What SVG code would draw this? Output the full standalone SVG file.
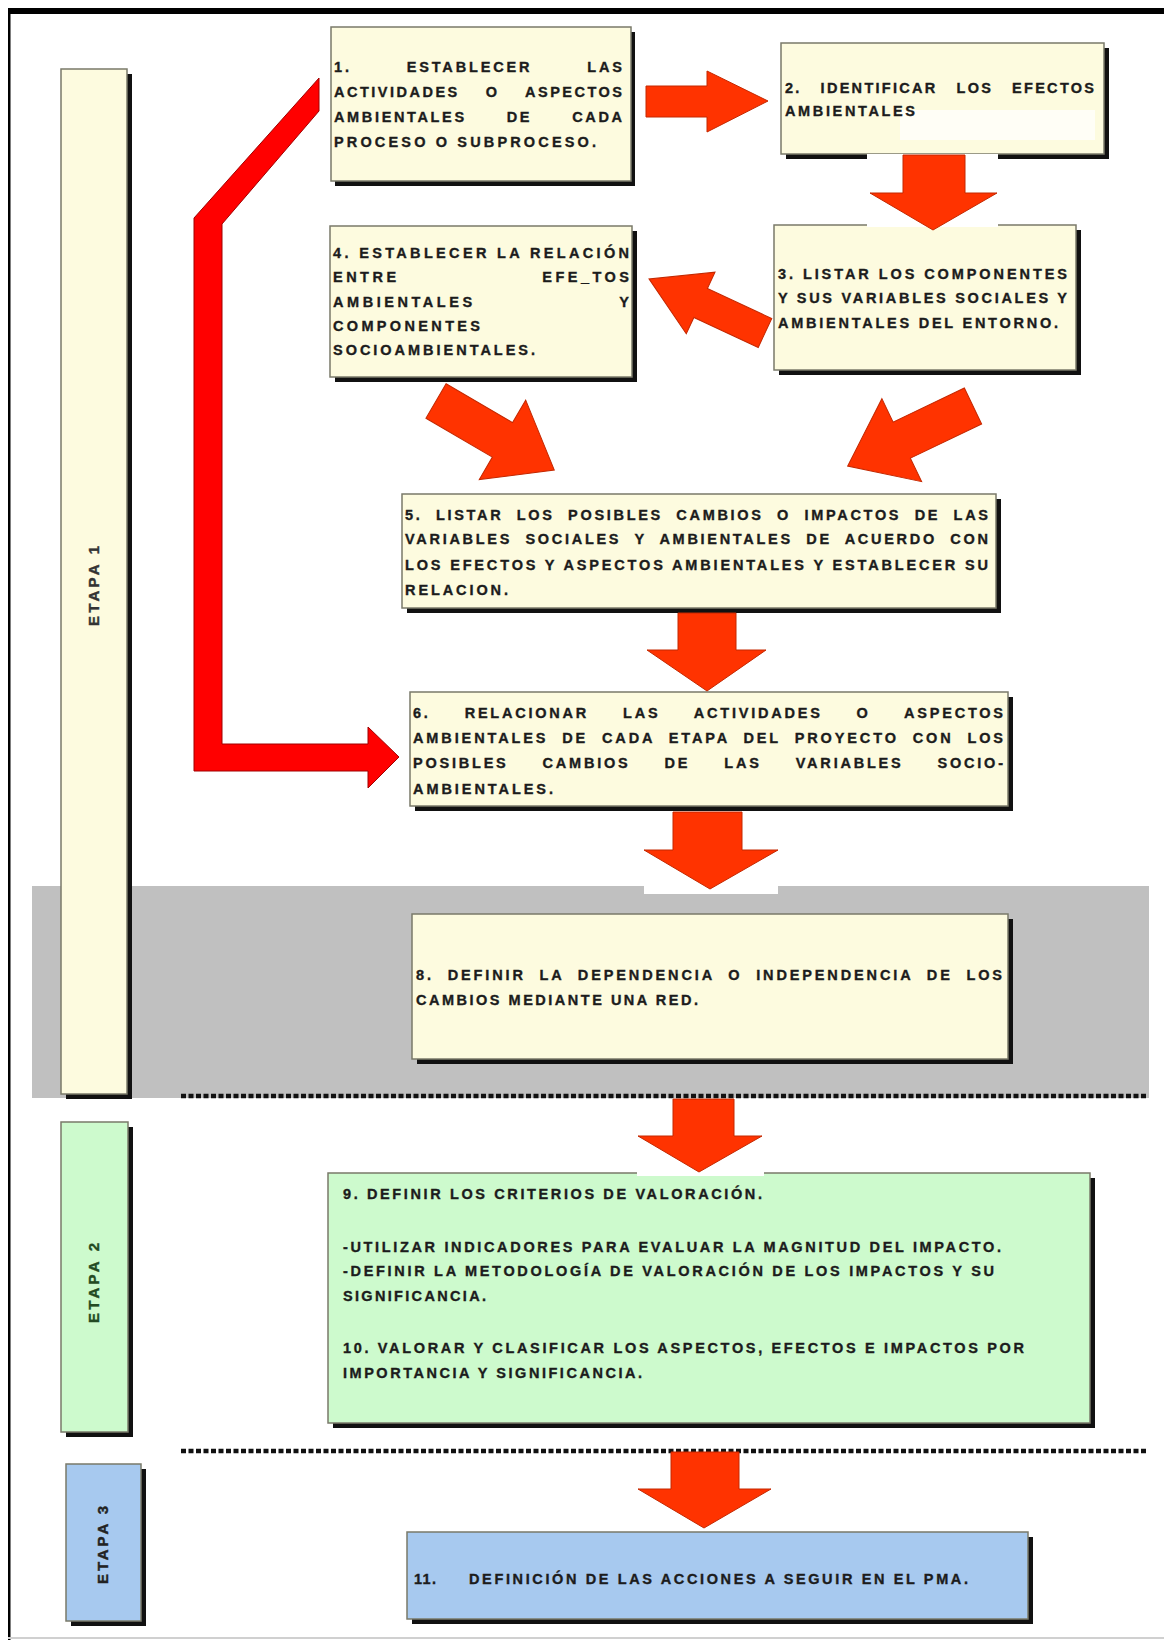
<svg xmlns="http://www.w3.org/2000/svg" width="1164" height="1648" viewBox="0 0 1164 1648">
<style>
.sh{fill:#111}
.bx{stroke:#7a7a6a;stroke-width:1.5}
.cream{fill:#fdfbdf}
.green{fill:#cdfacd}
.blue{fill:#a7c9ef}
.t{font-family:"Liberation Sans",Arial,sans-serif;font-weight:bold;font-size:14.5px;fill:#1c1c1c;stroke:#1c1c1c;stroke-width:0.35}
.et{font-family:"Liberation Sans",Arial,sans-serif;font-weight:bold;font-size:15px;stroke-width:0.4}
.arr{fill:#ff3300;stroke:#c42800;stroke-width:1}
.red{fill:#ff0000;stroke:#a00000;stroke-width:1}
.dot{stroke:#111;stroke-width:4.5;stroke-dasharray:5 2.5;fill:none}
</style>
<rect width="1164" height="1648" fill="#ffffff"/>
<g id="frame">
<rect x="8" y="8" width="1156" height="6" fill="#000"/>
<rect x="8" y="8" width="2.5" height="1632" fill="#000"/>
<rect x="8" y="1637" width="1156" height="2" fill="#d0d0d0"/>
</g>
<rect id="band" x="32" y="886" width="1117" height="212" fill="#c0c0c0"/>
<path class="dot" d="M181 1096 H1148 M181 1451 H1148"/>

<g id="etapa1">
<rect class="sh" x="66" y="74" width="66" height="1025"/>
<rect class="bx cream" x="61" y="69" width="66" height="1025"/>
<text class="et" fill="#333" stroke="#333" transform="translate(99 586) rotate(-90)" text-anchor="middle" textLength="80" lengthAdjust="spacing">ETAPA 1</text>
</g>
<g id="etapa2">
<rect class="sh" x="66" y="1127" width="67" height="310"/>
<rect class="bx green" x="61" y="1122" width="67" height="310"/>
<text class="et" fill="#234a23" stroke="#234a23" transform="translate(99 1283) rotate(-90)" text-anchor="middle" textLength="80" lengthAdjust="spacing">ETAPA 2</text>
</g>
<g id="etapa3">
<rect class="sh" x="71" y="1469" width="75" height="157"/>
<rect class="bx blue" x="66" y="1464" width="75" height="157"/>
<text class="et" fill="#222" stroke="#222" transform="translate(108 1545) rotate(-90)" text-anchor="middle" textLength="78" lengthAdjust="spacing">ETAPA 3</text>
</g>

<g id="n1">
<rect class="sh" x="335" y="32" width="300" height="154"/>
<rect class="bx cream" x="331" y="27" width="300" height="154"/>
<text class="t" xml:space="preserve" x="334" y="72" textLength="288" lengthAdjust="spacing">1.        ESTABLECER        LAS</text>
<text class="t" xml:space="preserve" x="334" y="97" textLength="288" lengthAdjust="spacing">ACTIVIDADES    O    ASPECTOS</text>
<text class="t" xml:space="preserve" x="334" y="122" textLength="288" lengthAdjust="spacing">AMBIENTALES      DE      CADA</text>
<text class="t" x="334" y="147" textLength="262" lengthAdjust="spacing">PROCESO O SUBPROCESO.</text>
</g>
<g id="n2">
<rect class="sh" x="786" y="48" width="323" height="111"/>
<rect class="bx cream" x="781" y="43" width="323" height="111"/>
<rect x="900" y="110" width="195" height="30" fill="#ffffff" opacity="0.7"/>
<text class="t" xml:space="preserve" x="785" y="93" textLength="309" lengthAdjust="spacing">2.   IDENTIFICAR   LOS   EFECTOS</text>
<text class="t" x="785" y="116" textLength="130" lengthAdjust="spacing">AMBIENTALES</text>
</g>
<g id="n3">
<rect class="sh" x="779" y="230" width="302" height="145"/>
<rect class="bx cream" x="774" y="225" width="302" height="145"/>
<text class="t" x="778" y="279" textLength="289" lengthAdjust="spacing">3. LISTAR LOS COMPONENTES</text>
<text class="t" x="778" y="303" textLength="289" lengthAdjust="spacing">Y SUS VARIABLES SOCIALES Y</text>
<text class="t" x="778" y="328" textLength="280" lengthAdjust="spacing">AMBIENTALES DEL ENTORNO.</text>
</g>
<g id="n4">
<rect class="sh" x="335" y="231" width="302" height="151"/>
<rect class="bx cream" x="330" y="226" width="302" height="151"/>
<text class="t" x="333" y="258" textLength="296" lengthAdjust="spacing">4. ESTABLECER LA RELACIÓN</text>
<text class="t" xml:space="preserve" x="333" y="282" textLength="296" lengthAdjust="spacing">ENTRE                   EFE_TOS</text>
<text class="t" xml:space="preserve" x="333" y="307" textLength="296" lengthAdjust="spacing">AMBIENTALES                   Y</text>
<text class="t" x="333" y="331" textLength="147" lengthAdjust="spacing">COMPONENTES</text>
<text class="t" x="333" y="355" textLength="202" lengthAdjust="spacing">SOCIOAMBIENTALES.</text>
</g>
<g id="n5">
<rect class="sh" x="407" y="499" width="594" height="114"/>
<rect class="bx cream" x="402" y="494" width="594" height="114"/>
<text class="t" xml:space="preserve" x="405" y="520" textLength="583" lengthAdjust="spacing">5.  LISTAR  LOS  POSIBLES  CAMBIOS  O  IMPACTOS  DE  LAS</text>
<text class="t" xml:space="preserve" x="405" y="544" textLength="583" lengthAdjust="spacing">VARIABLES  SOCIALES  Y  AMBIENTALES  DE  ACUERDO  CON</text>
<text class="t" x="405" y="570" textLength="583" lengthAdjust="spacing">LOS EFECTOS Y ASPECTOS AMBIENTALES Y ESTABLECER SU</text>
<text class="t" x="405" y="595" textLength="103" lengthAdjust="spacing">RELACION.</text>
</g>
<g id="n6">
<rect class="sh" x="415" y="697" width="598" height="114"/>
<rect class="bx cream" x="410" y="692" width="598" height="114"/>
<text class="t" xml:space="preserve" x="413" y="718" textLength="590" lengthAdjust="spacing">6.     RELACIONAR     LAS     ACTIVIDADES     O     ASPECTOS</text>
<text class="t" xml:space="preserve" x="413" y="743" textLength="590" lengthAdjust="spacing">AMBIENTALES  DE  CADA  ETAPA  DEL  PROYECTO  CON  LOS</text>
<text class="t" xml:space="preserve" x="413" y="768" textLength="590" lengthAdjust="spacing">POSIBLES     CAMBIOS     DE     LAS     VARIABLES     SOCIO-</text>
<text class="t" x="413" y="794" textLength="140" lengthAdjust="spacing">AMBIENTALES.</text>
</g>
<g id="n8">
<rect class="sh" x="417" y="919" width="596" height="145"/>
<rect class="bx cream" x="412" y="914" width="596" height="145"/>
<text class="t" xml:space="preserve" x="416" y="980" textLength="586" lengthAdjust="spacing">8.  DEFINIR  LA  DEPENDENCIA  O  INDEPENDENCIA  DE  LOS</text>
<text class="t" x="416" y="1005" textLength="282" lengthAdjust="spacing">CAMBIOS MEDIANTE UNA RED.</text>
</g>
<g id="n9">
<rect class="sh" x="333" y="1178" width="762" height="250"/>
<rect class="bx green" x="328" y="1173" width="762" height="250"/>
<text class="t" x="343" y="1199" textLength="419" lengthAdjust="spacing">9. DEFINIR LOS CRITERIOS DE VALORACIÓN.</text>
<text class="t" x="343" y="1252" textLength="658" lengthAdjust="spacing">-UTILIZAR INDICADORES PARA EVALUAR LA MAGNITUD DEL IMPACTO.</text>
<text class="t" x="343" y="1276" textLength="651" lengthAdjust="spacing">-DEFINIR LA METODOLOGÍA DE VALORACIÓN DE LOS IMPACTOS Y SU</text>
<text class="t" x="343" y="1301" textLength="143" lengthAdjust="spacing">SIGNIFICANCIA.</text>
<text class="t" x="343" y="1353" textLength="681" lengthAdjust="spacing">10. VALORAR Y CLASIFICAR LOS ASPECTOS, EFECTOS E IMPACTOS POR</text>
<text class="t" x="343" y="1378" textLength="299" lengthAdjust="spacing">IMPORTANCIA Y SIGNIFICANCIA.</text>
</g>
<g id="n11">
<rect class="sh" x="412" y="1537" width="621" height="87"/>
<rect class="bx blue" x="407" y="1532" width="621" height="87"/>
<text class="t" x="414" y="1584" textLength="22" lengthAdjust="spacing">11.</text>
<text class="t" x="469" y="1584" textLength="499" lengthAdjust="spacing">DEFINICIÓN DE LAS ACCIONES A SEGUIR EN EL PMA.</text>
</g>

<g id="connectors">
<polygon class="arr" points="646,86 707,86 707,71 768,101 707,132 707,117 646,117"/>
<rect x="867" y="154" width="131" height="73" fill="#ffffff"/>
<polygon class="arr" points="903,155 965,155 965,193 997,193 933,230 870,193 903,193"/>
<polygon class="arr" transform="translate(765 333) rotate(205)" points="0,-16 71,-16 71,-34 128,0 71,34 71,16 0,16"/>
<polygon class="arr" transform="translate(436 401) rotate(30.3)" points="0,-20 77,-20 77,-46 137,0 77,46 77,20 0,20"/>
<polygon class="arr" transform="translate(973 406) rotate(154.4)" points="0,-20 79,-20 79,-46 139,0 79,46 79,20 0,20"/>
<polygon class="arr" points="678,613 736,613 736,650 766,650 707,691 647,650 678,650"/>
<rect x="644" y="884" width="134" height="10" fill="#ffffff"/>
<polygon class="arr" points="673,812 742,812 742,850 778,850 710,889 644,850 673,850"/>
<rect x="637" y="1099" width="127" height="77" fill="#ffffff"/>
<polygon class="arr" points="673,1099 734,1099 734,1136 762,1136 699,1172 638,1136 673,1136"/>
<polygon class="arr" points="671,1452 739,1452 739,1489 771,1489 704,1528 638,1489 671,1489"/>
<polygon class="red" points="319,78 319,111 222,224 222,744 368,744 368,727 399,757 368,788 368,771 194,771 194,218"/>
</g>
</svg>
